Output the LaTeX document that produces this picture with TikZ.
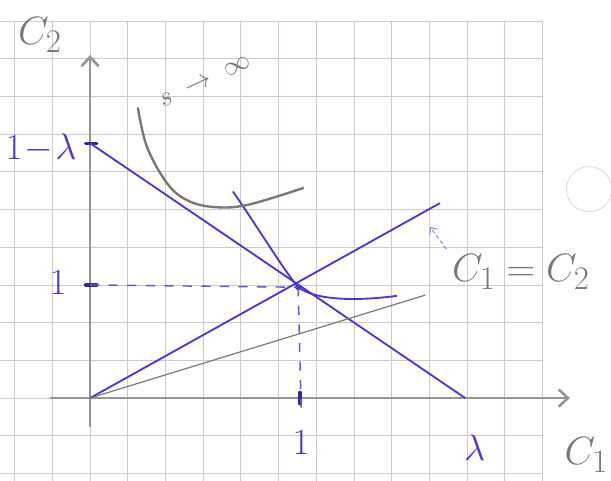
\documentclass[tikz,border=0pt]{standalone}
\usetikzlibrary{arrows.meta}
\definecolor{penblue}{RGB}{72,58,205}
\definecolor{pencil}{RGB}{150,150,150}
\definecolor{lead}{RGB}{118,122,118}
\definecolor{gridgray}{RGB}{202,202,210}

\begin{document}
\begin{tikzpicture}[x=1cm,y=1cm,
  pen/.style={penblue,line width=1.4pt},
  axisline/.style={pencil,line width=2pt,-{Straight Barb[length=7pt,width=13pt,line width=2pt]}},
  tickmark/.style={penblue!70!black,line width=2.4pt,line cap=round},
  guide/.style={penblue!85,line width=1.1pt,dash pattern=on 7pt off 7pt},
  bluetext/.style={text=penblue,font=\Huge,scale=1.12},
  leadtext/.style={text=lead,font=\Huge,scale=1.2}]
  \useasboundingbox (-2.39,-2.20) rectangle (13.82,10.56);
  \draw[gridgray,line width=0.6pt] (-2.39,-2.20) grid (12,10);
  \draw[gray!35,line width=0.5pt] (13.24,5.54) circle (0.6);
  % axes
  \coordinate (O) at (0,0);
  \draw[axisline] (0,-0.77) -- (0,9.1) coordinate (ytop);
  \draw[axisline] (-1.06,0) -- (12.73,0) coordinate (xtop);
  \node[leadtext] (labc2) at (-1.33,9.63) {$C_2$};
  \node[leadtext,anchor=east,inner sep=1pt] (labc1) at (13.8,-1.51) {$C_1$};
  % points
  \coordinate (A) at (0,6.76);
  \coordinate (L) at (9.95,0);
  \coordinate (P) at (5.52,2.94);
  \coordinate (Y1) at (0,3.0);
  \coordinate (X1) at (5.6,-0.32);
  \coordinate (E) at (9.28,5.17);
  \coordinate (G) at (8.89,2.73);
  \draw[tickmark] (-0.12,6.76) -- (0.18,6.76);
  \draw[tickmark] (-0.12,3.0) -- (0.18,3.0);
  \draw[tickmark] (5.57,-0.15) -- (5.57,0.15);
  \fill[penblue!70!black] (P) circle (2.2pt);
  % lines
  \draw[pen] (A) -- (L);
  \draw[pen] (O) -- (E);
  \draw[lead,line width=0.9pt] (O) -- (G);
  \draw[guide] (Y1) -- (P);
  \draw[guide] (P) -- (X1);
  \draw[pen] (3.79,5.48) .. controls (4.5,4.45) and (5.1,3.45) .. (P)
    .. controls (5.95,2.62) and (6.9,2.55) .. (8.14,2.71);
  \draw[lead,line width=1.8pt,line cap=round] plot[smooth,tension=0.6] coordinates
    {(1.27,7.69) (1.51,6.66) (2.04,5.70) (2.57,5.25) (3.26,5.07) (4.16,5.12) (5.65,5.57)};
  % labels
  \node[bluetext] (lab1l) at (-1.3,6.63) {$1\!-\!\lambda$};
  \node[bluetext] (laby1) at (-0.85,3.05) {$1$};
  \node[bluetext] (labx1) at (5.6,-1.17) {$1$};
  \node[bluetext] (labl) at (10.2,-1.33) {$\lambda$};
  \node[text=lead,font=\huge,rotate=25,inner sep=0pt] (labs) at (3.05,8.4) {$s\;\to\;\infty$};
  \node[leadtext] (labeq) at (11.43,3.34) {$C_1=C_2$};
  \coordinate (eqtip) at (9.02,4.54);
  \draw[penblue!60,line width=0.8pt,dash pattern=on 3pt off 2pt,-{Straight Barb[length=4pt,width=7pt]}]
    (labeq.north west) -- (eqtip);
\end{tikzpicture}
\end{document}
